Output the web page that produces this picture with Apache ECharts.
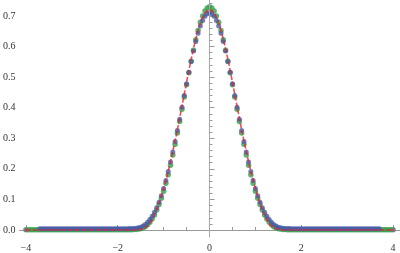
<!DOCTYPE html>
<html><head><meta charset="utf-8">
<script src="https://cdn.jsdelivr.net/npm/echarts@6/dist/echarts.min.js"></script>
<style>html,body{margin:0;padding:0;background:#fff}#c{width:400px;height:253px}</style>
</head><body><div id="c"></div>
<script>
// ---- data ----
const xTickLabels = [-4, -2, 0, 2, 4];
const xMinorTicks = [-3.5, -3, -2.5, -1.5, -1, -0.5, 0.5, 1, 1.5, 2.5, 3, 3.5];
const yTickLabels = [0, 0.1, 0.2, 0.3, 0.4, 0.5, 0.6, 0.7];
const yMinorTicks = [0.02,0.04,0.06,0.08,0.12,0.14,0.16,0.18,0.22,0.24,0.26,0.28,0.32,0.34,0.36,0.38,0.42,0.44,0.46,0.48,0.52,0.54,0.56,0.58,0.62,0.64,0.66,0.68,0.72,0.74];

const blueX = [
 -3.7,-3.65,-3.6,-3.55,-3.5,-3.45,-3.4,-3.35,-3.3,-3.25,-3.2,-3.15,-3.1,-3.05,-3.0,-2.95,-2.9,-2.85,-2.8,-2.75,-2.7,-2.65,-2.6,-2.55,-2.5,-2.45,-2.4,-2.35,-2.3,-2.25,-2.2,-2.15,-2.1,-2.05,-2.0,-1.95,-1.9,-1.85,-1.8,-1.75,-1.7,-1.65,
 -1.6,-1.55,-1.5,-1.45,-1.4,-1.35,-1.3,-1.25,-1.2,-1.15,-1.1,-1.05,-1.0,-0.95,-0.9,-0.85,-0.8,-0.75,-0.7,-0.65,-0.6,-0.55,-0.5,-0.45,-0.4,-0.35,-0.3,-0.25,-0.2,-0.15,-0.1,-0.05,
 0,
 0.05,0.1,0.15,0.2,0.25,0.3,0.35,0.4,0.45,0.5,0.55,0.6,0.65,0.7,0.75,0.8,0.85,0.9,0.95,1.0,1.05,1.1,1.15,1.2,1.25,1.3,1.35,1.4,1.45,1.5,1.55,1.6,
 1.65,1.7,1.75,1.8,1.85,1.9,1.95,2.0,2.05,2.1,2.15,2.2,2.25,2.3,2.35,2.4,2.45,2.5,2.55,2.6,2.65,2.7,2.75,2.8,2.85,2.9,2.95,3.0,3.05,3.1,3.15,3.2,3.25,3.3,3.35,3.4,3.45,3.5,3.55,3.6,3.65,3.7];
const blueY = [
 0.004,0.004,0.004,0.004,0.004,0.004,0.004,0.004,0.004,0.004,0.004,0.004,0.004,0.004,0.004,0.004,0.004,0.004,0.004,0.004,0.004,0.004,0.004,0.004,0.004,0.004,0.004,0.004,0.004,0.004,0.004,0.004,0.004,0.004,0.004,0.004,0.004,0.004,0.004,0.005,0.005,0.005,
 0.006,0.007,0.009,0.013,0.018,0.025,0.034,0.045,0.058,0.073,0.091,0.112,0.136,0.162,0.191,0.222,0.255,0.289,0.325,0.362,0.401,0.440,0.478,0.516,0.551,0.585,0.616,0.643,0.667,0.685,0.699,0.707,
 0.710,
 0.707,0.699,0.685,0.667,0.643,0.616,0.585,0.551,0.516,0.478,0.440,0.401,0.362,0.325,0.289,0.255,0.222,0.191,0.162,0.136,0.112,0.091,0.073,0.058,0.045,0.034,0.025,0.018,0.013,0.009,0.007,0.006,
 0.005,0.005,0.005,0.004,0.004,0.004,0.004,0.004,0.004,0.004,0.004,0.004,0.004,0.004,0.004,0.004,0.004,0.004,0.004,0.004,0.004,0.004,0.004,0.004,0.004,0.004,0.004,0.004,0.004,0.004,0.004,0.004,0.004,0.004,0.004,0.004,0.004,0.004,0.004,0.004,0.004,0.004];

const greenX = [
 -4.0,-3.95,-3.9,-3.85,-3.8,-3.75,-3.7,-3.65,-3.6,-3.55,-3.5,-3.45,-3.4,-3.35,-3.3,-3.25,-3.2,-3.15,-3.1,-3.05,-3.0,-2.95,-2.9,-2.85,-2.8,-2.75,-2.7,-2.65,-2.6,-2.55,-2.5,-2.45,-2.4,-2.35,-2.3,-2.25,-2.2,-2.15,-2.1,-2.05,-2.0,-1.95,-1.9,-1.85,-1.8,-1.75,-1.7,-1.65,
 -1.6,-1.55,-1.5,-1.45,-1.4,-1.35,-1.3,-1.25,-1.2,-1.15,-1.1,-1.05,-1.0,-0.95,-0.9,-0.85,-0.8,-0.75,-0.7,-0.65,-0.6,-0.55,-0.5,-0.45,-0.4,-0.35,-0.3,-0.25,-0.2,-0.15,-0.1,-0.05,
 0,
 0.05,0.1,0.15,0.2,0.25,0.3,0.35,0.4,0.45,0.5,0.55,0.6,0.65,0.7,0.75,0.8,0.85,0.9,0.95,1.0,1.05,1.1,1.15,1.2,1.25,1.3,1.35,1.4,1.45,1.5,1.55,1.6,
 1.65,1.7,1.75,1.8,1.85,1.9,1.95,2.0,2.05,2.1,2.15,2.2,2.25,2.3,2.35,2.4,2.45,2.5,2.55,2.6,2.65,2.7,2.75,2.8,2.85,2.9,2.95,3.0,3.05,3.1,3.15,3.2,3.25,3.3,3.35,3.4,3.45,3.5,3.55,3.6,3.65,3.7,3.75,3.8,3.85,3.9,3.95,4.0];
const greenY = [
 0.001,0.001,0.001,0.001,0.001,0.001,0.001,0.001,0.001,0.001,0.001,0.001,0.001,0.001,0.001,0.001,0.001,0.001,0.001,0.001,0.001,0.001,0.001,0.001,0.001,0.001,0.001,0.001,0.001,0.001,0.001,0.001,0.001,0.001,0.001,0.001,0.001,0.001,0.001,0.001,0.001,0.001,0.001,0.001,0.001,0.001,0.001,0.002,
 0.002,0.003,0.004,0.007,0.011,0.017,0.025,0.036,0.049,0.065,0.083,0.104,0.127,0.153,0.181,0.212,0.245,0.280,0.317,0.355,0.395,0.435,0.475,0.514,0.552,0.588,0.622,0.652,0.679,0.700,0.716,0.726,
 0.730,
 0.726,0.716,0.700,0.679,0.652,0.622,0.588,0.552,0.514,0.475,0.435,0.395,0.355,0.317,0.280,0.245,0.212,0.181,0.153,0.127,0.104,0.083,0.065,0.049,0.036,0.025,0.017,0.011,0.007,0.004,0.003,0.002,
 0.002,0.001,0.001,0.001,0.001,0.001,0.001,0.001,0.001,0.001,0.001,0.001,0.001,0.001,0.001,0.001,0.001,0.001,0.001,0.001,0.001,0.001,0.001,0.001,0.001,0.001,0.001,0.001,0.001,0.001,0.001,0.001,0.001,0.001,0.001,0.001,0.001,0.001,0.001,0.001,0.001,0.001,0.001,0.001,0.001,0.001,0.001,0.001];

const redX = [-4,-3,-2,-1.7,-1.6,-1.5,-1.4,-1.3,-1.2,-1.1,-1.0,-0.9,-0.8,-0.7,-0.6,-0.5,-0.4,-0.3,-0.2,-0.1,0,0.1,0.2,0.3,0.4,0.5,0.6,0.7,0.8,0.9,1.0,1.1,1.2,1.3,1.4,1.5,1.6,1.7,2,3,4];
const redY = [0,0,0,0,0,0.002,0.007,0.021,0.049,0.088,0.136,0.192,0.257,0.328,0.405,0.483,0.558,0.624,0.676,0.709,0.720,0.709,0.676,0.624,0.558,0.483,0.405,0.328,0.257,0.192,0.136,0.088,0.049,0.021,0.007,0.002,0,0,0,0,0];

const endX = [-4, 4];
const endY = [0, 0];

const zip = (xs, ys) => xs.map((x, i) => [x, ys[i]]);

const FONT = 'Liberation Serif';
const AXC = '#9a9a9a';
const chart = echarts.init(document.getElementById('c'), null, {renderer: 'canvas'});
chart.setOption({
  animation: false,
  backgroundColor: '#ffffff',
  grid: {left: 16, right: 0, top: 0, bottom: 16, containLabel: false},
  xAxis: [
    {type: 'value', min: -4.14, max: 4.15, position: 'bottom',
     axisLine: {show: true, lineStyle: {color: AXC, width: 1}},
     axisTick: {show: true, inside: true, length: 5, customValues: xTickLabels, lineStyle: {color: AXC}},
     axisLabel: {show: true, customValues: xTickLabels, margin: 6, color: '#333', fontFamily: FONT, fontSize: 10,
                 formatter: v => String(v).replace('-', '\u2212')},
     splitLine: {show: false}},
    {type: 'value', min: -4.14, max: 4.15, position: 'bottom', offset: 0,
     axisLine: {show: false},
     axisTick: {show: true, inside: true, length: 3, customValues: xMinorTicks, lineStyle: {color: AXC}},
     axisLabel: {show: false}, splitLine: {show: false}}
  ],
  yAxis: [
    {type: 'value', min: -0.0229, max: 0.752, position: 'left',
     axisLine: {show: true, lineStyle: {color: AXC, width: 1}},
     axisTick: {show: true, inside: true, length: 5, customValues: yTickLabels, lineStyle: {color: AXC}},
     axisLabel: {show: true, customValues: yTickLabels, margin: 4, color: '#333', fontFamily: FONT, fontSize: 10,
                 formatter: v => v.toFixed(1)},
     splitLine: {show: false}},
    {type: 'value', min: -0.0229, max: 0.752, position: 'left', offset: 0,
     axisLine: {show: false},
     axisTick: {show: true, inside: true, length: 3, customValues: yMinorTicks, lineStyle: {color: AXC}},
     axisLabel: {show: false}, splitLine: {show: false}}
  ],
  series: [
    {type: 'scatter', name: 'green', data: zip(greenX, greenY), symbol: 'circle', symbolSize: 5.5,
     itemStyle: {color: '#35a04e'}, z: 2},
    {type: 'scatter', name: 'blue', data: zip(blueX, blueY), symbol: 'circle', symbolSize: 5,
     itemStyle: {color: '#4a5ba8'}, z: 3},
    {type: 'scatter', name: 'ends', data: zip(endX, endY), symbol: 'circle', symbolSize: 4,
     itemStyle: {color: '#b9468c'}, z: 4},
    {type: 'line', name: 'red', data: zip(redX, redY), showSymbol: false, smooth: 0.3,
     lineStyle: {color: '#e5242c', width: 1.6, type: [5, 2], opacity: 0.8}, z: 5,
     markLine: {silent: true, symbol: 'none', label: {show: false},
                lineStyle: {color: '#a8a8a8', width: 1, type: 'solid'},
                data: [{xAxis: 0}]}}
  ]
});
</script></body></html>
